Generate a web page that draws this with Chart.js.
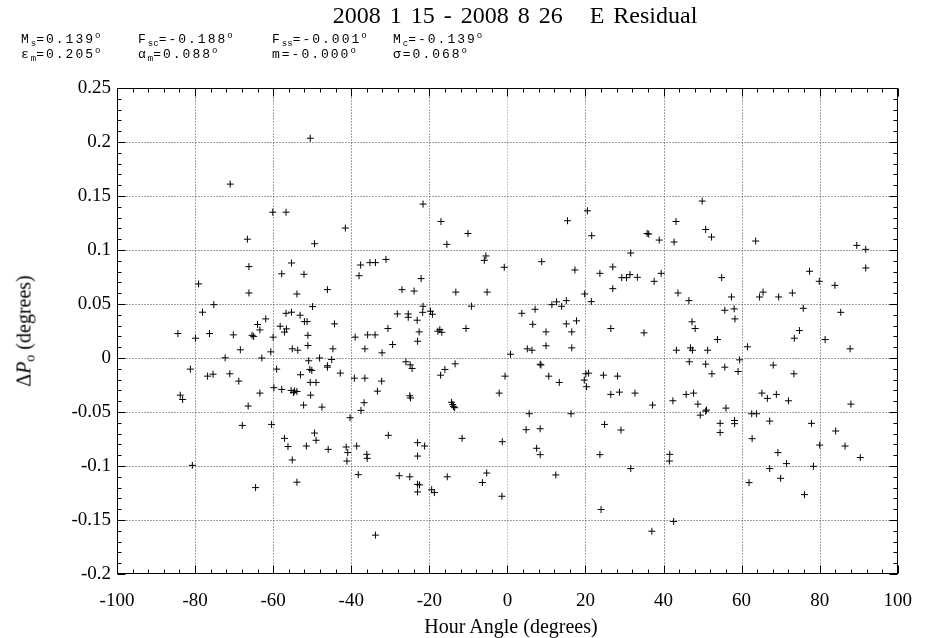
<!DOCTYPE html>
<html>
<head>
<meta charset="utf-8">
<title>E Residual</title>
<script src="https://cdn.jsdelivr.net/npm/chart.js@4.4.1/dist/chart.umd.min.js"></script>
<style>
  body { margin: 0; background: #fff; }
  #wrap { position: relative; width: 928px; height: 638px; overflow: hidden; }
  #chart { position: absolute; left: 0; top: 0; }
  .serif { position: absolute; font-family: "Liberation Serif", "Times New Roman", serif; color: #000; white-space: nowrap; }
  .mono { position: absolute; font-family: "Liberation Mono", "Courier New", monospace; font-size: 13px; line-height: 13px; letter-spacing: 2px; white-space: nowrap; color: #000; }
  .mono sub { font-size: 9px; letter-spacing: 0; vertical-align: -3px; line-height: 0; }
  .mono sup { font-size: 9px; letter-spacing: 0; vertical-align: 5px; line-height: 0; }
  .serif sub { font-size: 14px; vertical-align: -4px; line-height: 0; }
</style>
</head>
<body>
<div id="wrap">
  <canvas id="chart" width="928" height="638"></canvas>
  <div class="serif" style="left:515px; top:2px; font-size:24px; word-spacing:3px; transform:translateX(-50%);">2008 1 15 - 2008 8 26&nbsp;&nbsp; E Residual</div>
  <div class="mono" style="left:21px; top:33px;">M<sub>s</sub>=0.139<sup>o</sup></div>
  <div class="mono" style="left:138px; top:33px;">F<sub>sc</sub>=-0.188<sup>o</sup></div>
  <div class="mono" style="left:272px; top:33px;">F<sub>ss</sub>=-0.001<sup>o</sup></div>
  <div class="mono" style="left:393px; top:33px;">M<sub>c</sub>=-0.139<sup>o</sup></div>
  <div class="mono" style="left:21px; top:48px;">&epsilon;<sub>m</sub>=0.205<sup>o</sup></div>
  <div class="mono" style="left:138px; top:48px;">&alpha;<sub>m</sub>=0.088<sup>o</sup></div>
  <div class="mono" style="left:272px; top:48px;">m=-0.000<sup>o</sup></div>
  <div class="mono" style="left:393px; top:48px;">&sigma;=0.068<sup>o</sup></div>
  <div class="serif" style="left:24px; top:331px; font-size:20px; transform:translate(-50%,-50%) rotate(-90deg);">&Delta;<i>P</i><sub>o</sub> (degrees)</div>
  <div class="serif" style="left:511px; top:615px; font-size:20px; transform:translateX(-50%);">Hour Angle (degrees)</div>
</div>
<script>
// hour angle (degrees) of each residual point
var hourAngle = [
  -84.4, -83.8, -83.2, -81.2, -80.7, -79.9, -79.1, -78.1, -76.8, -76.3,
  -75.4, -75.2, -72.3, -71.1, -71.0, -70.2, -68.8, -68.4, -67.9, -66.6,
  -66.4, -66.2, -66.2, -65.4, -65.0, -64.5, -64.0, -63.4, -63.4, -62.9,
  -61.9, -60.6, -60.4, -60.1, -60.0, -59.8, -59.1, -58.2, -57.8, -57.8,
  -57.1, -57.1, -56.7, -56.7, -56.6, -56.2, -55.4, -55.3, -55.3, -55.1,
  -55.1, -54.8, -54.5, -53.9, -53.9, -53.9, -53.7, -53.1, -53.0, -52.2,
  -52.1, -52.0, -51.5, -51.3, -51.1, -51.1, -50.9, -50.6, -50.5, -50.5,
  -50.4, -50.1, -49.9, -49.4, -49.4, -49.0, -49.0,
  -48.1, -47.5, -46.1, -46.1, -46.1, -45.9, -45.0, -44.7, -44.3, -42.8,
  -41.5, -41.3, -41.1, -40.9, -40.3, -39.2, -39.0, -38.6, -38.2, -38.0,
  -37.6, -37.5, -36.7, -36.5, -36.5, -36.0, -35.9, -35.8, -35.2, -33.9,
  -33.8, -33.8, -33.3, -32.2, -32.1, -31.1, -30.6, -30.5, -29.4, -28.2,
  -27.7, -27.0, -26.0, -25.4, -25.4, -25.0, -25.0, -24.9, -24.8, -24.4,
  -23.9, -23.1, -23.0, -23.0, -23.0, -23.0, -22.5, -23.0, -22.6, -22.1,
  -21.7, -21.6, -21.6, -21.2, -19.7, -19.4, -19.2, -18.7, -17.8, -17.3,
  -17.1, -17.0, -16.8, -16.0, -15.5, -15.4, -14.3, -14.0, -13.8, -13.5,
  -13.4, -13.2, -11.6, -10.6, -10.1, -9.2, -6.4, -5.9, -5.5, -5.3,
  -5.2, -2.1, -1.4, -1.3, -0.8, -0.6,
  0.8, 3.7, 4.8, 5.1, 5.6, 6.3, 6.5, 7.1, 7.5, 8.4,
  8.6, 8.4, 8.4, 8.8, 9.9, 9.9, 10.6, 11.4, 12.4, 12.6,
  13.3, 13.9, 15.1, 15.1, 15.4, 16.3, 16.5, 16.5, 17.3, 17.7,
  19.7, 19.8, 20.1, 20.3, 20.5, 20.8, 21.5, 21.6, 23.7, 23.7,
  24.0, 24.6, 24.9, 26.5, 26.5, 27.0, 27.0, 28.2, 28.7, 29.1,
  29.3, 30.5, 31.4, 31.6, 31.6, 32.7, 33.3, 35.0, 35.8, 36.2,
  37.0, 37.2, 37.6, 38.9, 39.4, 41.5, 41.6, 42.4, 42.6, 42.7,
  43.2, 43.3, 43.7, 45.8, 46.5, 46.6, 46.9, 47.3, 47.4, 47.7,
  48.1, 48.8, 49.4, 49.9, 50.8, 50.8, 50.8, 51.0, 51.3,
  52.3, 52.4, 53.8, 54.5, 54.5, 54.9, 55.7, 55.7, 56.0, 57.4,
  58.1, 58.2, 58.2, 58.3, 59.1, 59.5, 61.5, 61.9, 62.6, 62.7,
  63.6, 63.8, 64.6, 65.2, 65.5, 66.6, 67.2, 67.2, 68.1, 68.9,
  69.3, 69.5, 70.0, 71.5, 72.0, 73.0, 73.4, 73.5, 74.8, 75.8,
  76.1, 77.4, 77.9, 78.4, 79.9, 80.0, 81.4, 83.9, 84.1, 85.4,
  86.5, 87.8, 88.0, 89.5, 90.4, 91.8, 91.8
];

// delta P_o residual (degrees), same order as hourAngle
var deltaP = [
  0.0226, -0.0344, -0.0384, -0.0103, -0.0994, 0.0183, 0.0686, 0.0424, -0.0168, 0.0226,
  -0.015, 0.0494, 0.0002, -0.0146, 0.161, 0.0214, -0.0214, 0.0076, -0.0624, 0.11,
  -0.0445, 0.0846, 0.0602, 0.021, 0.02, -0.12, 0.031, 0.026, -0.0325, 0,
  0.0362, 0.0057, -0.0615, 0.135, 0.0193, -0.0275, -0.0103, 0.0294, 0.078, -0.0291,
  0.024, -0.0744, 0.135, 0.0414, 0.027, -0.082, -0.03, 0.088, 0.0424, 0.0085,
  -0.0944, -0.032, -0.0305, 0.0593, -0.031, -0.115, 0.0072, 0.0396, -0.0155, -0.0436,
  0.0775, 0.0337, -0.0815, 0.0337, 0.021, 0.0116, -0.0026, -0.0106, 0.2035, -0.0226,
  -0.0344, -0.0115, 0.0476, 0.1058, -0.0695, -0.0226, -0.0762,
  0, -0.0455, 0.0633, -0.0072, -0.0085, -0.0846, -0.0014, 0.0085, 0.0316, -0.014,
  0.1203, -0.0824, -0.0954, -0.0876, -0.0553, -0.0187, 0.0193, -0.0815, -0.108, 0.0762,
  0.0861, -0.0485, -0.0414, 0.0085, -0.0187, -0.0892, -0.0929, 0.0214, 0.0883, 0.0214,
  0.0883, -0.164, -0.0307, -0.0214, 0.0048, 0.0913, 0.0273, -0.0716, 0.0125, 0.0408,
  -0.109, 0.0633, -0.0035, 0.0408, 0.0377, -0.035, -0.11, -0.0063, -0.037, -0.0097,
  0.062, 0.035, 0.0155, -0.0784, -0.0908, -0.117, -0.1175, -0.124, 0.0242, 0.0735,
  0.0423, 0.1425, 0.0479, -0.0815, 0.0433, -0.122, 0.0405, -0.1246, 0.0248, 0.0263,
  -0.0159, 0.1264, 0.0238, -0.0106, 0.1052, -0.11, -0.041, -0.043, -0.045, -0.046,
  -0.0054, 0.061, -0.0744, 0.0273, 0.1153, 0.048, -0.1153, 0.0904, 0.0945, -0.1065,
  0.061, -0.0325, -0.128, -0.0775, 0.084, -0.0168,
  0.0035, 0.0414, -0.0664, 0.0085, -0.0516, 0.0072, 0.0312, 0.0451, -0.0836, -0.0058,
  -0.0065, -0.0655, -0.0895, 0.0892, 0.0242, 0.0113, -0.0168, 0.0494, -0.1083, 0.052,
  -0.0226, 0.0479, 0.0531, 0.0316, 0.1271, -0.0516, 0.0242, 0.0094, 0.0815, 0.0344,
  -0.0205, 0.0593, -0.0146, -0.0266, 0.1363, -0.014, 0.0522, 0.1132, 0.0784, -0.0895,
  -0.1403, -0.0159, -0.0615, 0.0273, -0.0337, 0.0642, 0.0843, -0.0168, -0.0316, -0.0667,
  0.0744, 0.0744, 0.0772, 0.0972, -0.1024, -0.0325, 0.0747, 0.0233, 0.1153, 0.1148,
  -0.1604, -0.0436, 0.071, 0.1092, 0.0784, -0.0954, -0.0892, -0.0396, -0.1514, 0.1074,
  0.1264, 0.0072, 0.0602, -0.0337, 0.0531, -0.0035, 0.0094, 0.0335, 0.0072, -0.0325,
  0.0273, -0.0427, -0.0529, 0.1453, 0.119, -0.0057, -0.0492, -0.0482, 0.0072,
  0.112, -0.0146, 0.0171, -0.0605, -0.0689, 0.0744, 0.0442, -0.0085, -0.0464, 0.0565,
  0.0455, -0.0578, -0.0608, 0.0362, -0.0125, -0.0017, 0.0104, -0.1154, -0.0516, -0.0747,
  0.1083, -0.0516, 0.0565, -0.0325, 0.061, -0.0374, -0.0584, -0.1024, -0.0066, -0.0337,
  -0.0876, 0.0565, -0.1114, -0.0978, -0.0396, 0.0602, -0.0146, 0.0183, 0.0254, 0.046,
  -0.1265, 0.0803, -0.0605, -0.1003, 0.071, -0.0806, 0.0171, 0.0673, -0.0676, 0.0423,
  -0.0815, 0.0085, -0.0427, 0.1043, -0.0922, 0.1006, 0.0834
];

var xTicks = [-100, -80, -60, -40, -20, 0, 20, 40, 60, 80, 100];
var yTicks = [-0.2, -0.15, -0.1, -0.05, 0, 0.05, 0.1, 0.15, 0.2, 0.25];
var xMinorStep = 4;
var yMinorStep = 0.01;

if (hourAngle.length !== deltaP.length) console.log('length mismatch', hourAngle.length, deltaP.length);

var points = hourAngle.map(function (h, i) { return { x: h, y: deltaP[i] }; });

// gnuplot style frame: dotted grid, inward ticks on all four sides
var gnuplotFrame = {
  id: 'gnuplotFrame',
  beforeDatasetsDraw: function (chart) {
    var ctx = chart.ctx, a = chart.chartArea, xs = chart.scales.x, ys = chart.scales.y;
    var L = Math.round(a.left) + 0.5, R = Math.round(a.right) - 0.5;
    var T = Math.round(a.top) + 0.5, B = Math.round(a.bottom) - 0.5;
    ctx.save();
    ctx.lineWidth = 1;

    // grid
    ctx.setLineDash([1, 2]);
    xTicks.forEach(function (v) {
      if (v <= xTicks[0] || v >= xTicks[xTicks.length - 1]) return;
      var px = Math.round(xs.getPixelForValue(v)) + 0.5;
      ctx.strokeStyle = v === 0 ? '#999' : '#444';
      ctx.beginPath(); ctx.moveTo(px, T); ctx.lineTo(px, B); ctx.stroke();
    });
    ctx.strokeStyle = '#444';
    yTicks.forEach(function (v, i) {
      if (i === 0 || i === yTicks.length - 1) return;
      var py = Math.round(ys.getPixelForValue(v)) + 0.5;
      ctx.beginPath(); ctx.moveTo(L, py); ctx.lineTo(R, py); ctx.stroke();
    });
    ctx.setLineDash([]);

    // tick marks
    ctx.strokeStyle = '#000';
    var major = 8, minor = 4, v, px, py, len;
    for (v = xTicks[0]; v <= xTicks[xTicks.length - 1] + 1e-9; v += xMinorStep) {
      px = Math.round(xs.getPixelForValue(v)) + 0.5;
      len = (Math.round(v) % 20 === 0) ? major : minor;
      ctx.beginPath();
      ctx.moveTo(px, B); ctx.lineTo(px, B - len);
      ctx.moveTo(px, T); ctx.lineTo(px, T + len);
      ctx.stroke();
    }
    for (var k = 0; k <= Math.round((yTicks[yTicks.length - 1] - yTicks[0]) / yMinorStep); k++) {
      v = yTicks[0] + k * yMinorStep;
      py = Math.round(ys.getPixelForValue(v)) + 0.5;
      len = (k % 5 === 0) ? major : minor;
      ctx.beginPath();
      ctx.moveTo(L, py); ctx.lineTo(L + len, py);
      ctx.moveTo(R, py); ctx.lineTo(R - len, py);
      ctx.stroke();
    }

    // border
    ctx.strokeRect(L, T, R - L, B - T);
    ctx.restore();
  }
};

var tickFont = { family: '"Liberation Serif", "Times New Roman", serif', size: 19 };

var config = {
  type: 'scatter',
  data: {
    datasets: [
      {
        label: 'E Residual',
        data: points,
        pointStyle: 'cross',
        pointRadius: 3.5,
        pointBorderWidth: 1,
        borderColor: '#000',
        backgroundColor: '#000'
      }
    ]
  },
  options: {
    responsive: false,
    animation: false,
    layout: { padding: { top: 88, right: 24, left: 0, bottom: 0 } },
    plugins: { legend: { display: false }, tooltip: { enabled: false } },
    scales: {
      x: {
        type: 'linear',
        min: xTicks[0],
        max: xTicks[xTicks.length - 1],
        grid: { display: false, drawTicks: false },
        border: { display: false },
        afterBuildTicks: function (s) { s.ticks = xTicks.map(function (v) { return { value: v }; }); },
        afterFit: function (s) { s.height = 64; },
        ticks: { color: '#000', font: tickFont, padding: 16, maxRotation: 0, autoSkip: false }
      },
      y: {
        type: 'linear',
        min: yTicks[0],
        max: yTicks[yTicks.length - 1],
        grid: { display: false, drawTicks: false },
        border: { display: false },
        afterBuildTicks: function (s) { s.ticks = yTicks.map(function (v) { return { value: v }; }); },
        afterFit: function (s) { s.width = 117; },
        ticks: {
          color: '#000', font: tickFont, padding: 6, autoSkip: false,
          callback: function (v) { return String(parseFloat(Number(v).toFixed(2))); }
        }
      }
    }
  },
  plugins: [gnuplotFrame]
};

window.onload = function () {
  var ctx = document.getElementById('chart').getContext('2d');
  window.residualChart = new Chart(ctx, config);
};
</script>
</body>
</html>
